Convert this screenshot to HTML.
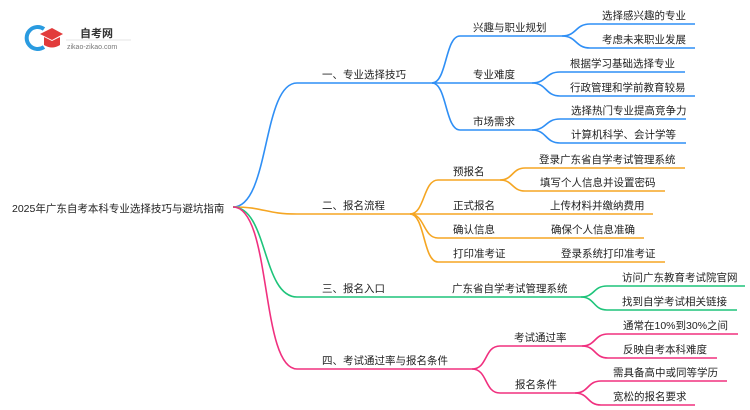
<!DOCTYPE html>
<html><head><meta charset="utf-8"><style>
html,body{margin:0;padding:0;background:#fff;}
svg{display:block;}
text{font-family:"Liberation Sans","Noto Sans CJK SC",sans-serif;font-size:10.5px;fill:#222;}
</style></head><body>
<svg width="750" height="410" viewBox="0 0 750 410" xmlns="http://www.w3.org/2000/svg">
<!-- logo -->
<path d="M44 29 A11 11 0 1 0 44 47" fill="none" stroke="#2a9be0" stroke-width="4"/>
<path d="M40 34 L52 28 L63 34 L52 40 Z" fill="#e23b3b"/>
<path d="M44 37 L44 45 Q52 50 60 45 L60 37 L52 41 Z" fill="#e23b3b"/>
<text x="80" y="37" style="font-size:11px;font-weight:bold;fill:#333">自考网</text>
<line x1="66" y1="40" x2="131" y2="40" stroke="#ddd" stroke-width="0.8"/>
<text x="67" y="49" style="font-size:7px;fill:#777">zikao-zikao.com</text>

<text x="12" y="212">2025年广东自考本科专业选择技巧与避坑指南</text>

<g fill="none" stroke-width="1.6">
<g stroke="#2f8ff5">
<path d="M233 207 C270 207 262 83 297 83 L432 83"/>
<path d="M432 83 C447 83 445 36 460 36 L562 36"/>
<path d="M432 83 L532 83"/>
<path d="M432 83 C447 83 445 130 460 130 L532 130"/>
<path d="M562 36 C577 36 575 24 590 24 L695 24"/>
<path d="M562 36 C577 36 575 48 590 48 L695 48"/>
<path d="M532 83 C547 83 545 72 560 72 L685 72"/>
<path d="M532 83 C547 83 545 96 560 96 L695 96"/>
<path d="M532 130 C547 130 545 119 560 119 L686 119"/>
<path d="M532 130 C547 130 545 143 560 143 L686 143"/>
</g>
<g stroke="#f5a623">
<path d="M233 207 C265 207 265 214 297 214 L410 214"/>
<path d="M410 214 C425 214 423 180 438 180 L500 180"/>
<path d="M410 214 L653 214"/>
<path d="M410 214 C425 214 423 238 438 238 L644 238"/>
<path d="M410 214 C425 214 423 262 438 262 L665 262"/>
<path d="M500 180 C513 180 512 168 525 168 L685 168"/>
<path d="M500 180 C513 180 512 191 525 191 L665 191"/>
</g>
<g stroke="#1ec47a">
<path d="M233 207 C268 207 262 297 297 297 L581 297"/>
<path d="M581 297 C595 297 593 286 607 286 L745 286"/>
<path d="M581 297 C595 297 593 310 607 310 L737 310"/>
</g>
<g stroke="#f0307f">
<path d="M233 207 C272 207 260 369 297 369 L472 369"/>
<path d="M472 369 C488 369 484 346 500 346 L582 346"/>
<path d="M472 369 C488 369 484 393 500 393 L575 393"/>
<path d="M582 346 C596 346 594 334 608 334 L738 334"/>
<path d="M582 346 C596 346 594 358 608 358 L717 358"/>
<path d="M575 393 C589 393 587 381 601 381 L727 381"/>
<path d="M575 393 C589 393 587 405 601 405 L695 405"/>
</g>
</g>

<text x="322" y="78">一、专业选择技巧</text>
<text x="473" y="31">兴趣与职业规划</text>
<text x="473" y="78">专业难度</text>
<text x="473" y="125">市场需求</text>
<text x="602" y="19">选择感兴趣的专业</text>
<text x="602" y="43">考虑未来职业发展</text>
<text x="570" y="67">根据学习基础选择专业</text>
<text x="570" y="91">行政管理和学前教育较易</text>
<text x="571" y="114">选择热门专业提高竞争力</text>
<text x="571" y="138">计算机科学、会计学等</text>

<text x="322" y="209">二、报名流程</text>
<text x="453" y="175">预报名</text>
<text x="453" y="209">正式报名</text>
<text x="453" y="233">确认信息</text>
<text x="453" y="257">打印准考证</text>
<text x="539" y="163">登录广东省自学考试管理系统</text>
<text x="540" y="186">填写个人信息并设置密码</text>
<text x="550" y="209">上传材料并缴纳费用</text>
<text x="551" y="233">确保个人信息准确</text>
<text x="561" y="257">登录系统打印准考证</text>

<text x="322" y="292">三、报名入口</text>
<text x="452" y="292">广东省自学考试管理系统</text>
<text x="622" y="281">访问广东教育考试院官网</text>
<text x="622" y="305">找到自学考试相关链接</text>

<text x="322" y="364">四、考试通过率与报名条件</text>
<text x="514" y="341">考试通过率</text>
<text x="515" y="388">报名条件</text>
<text x="623" y="329">通常在10%到30%之间</text>
<text x="623" y="353">反映自考本科难度</text>
<text x="613" y="376">需具备高中或同等学历</text>
<text x="613" y="400">宽松的报名要求</text>
</svg>
</body></html>
